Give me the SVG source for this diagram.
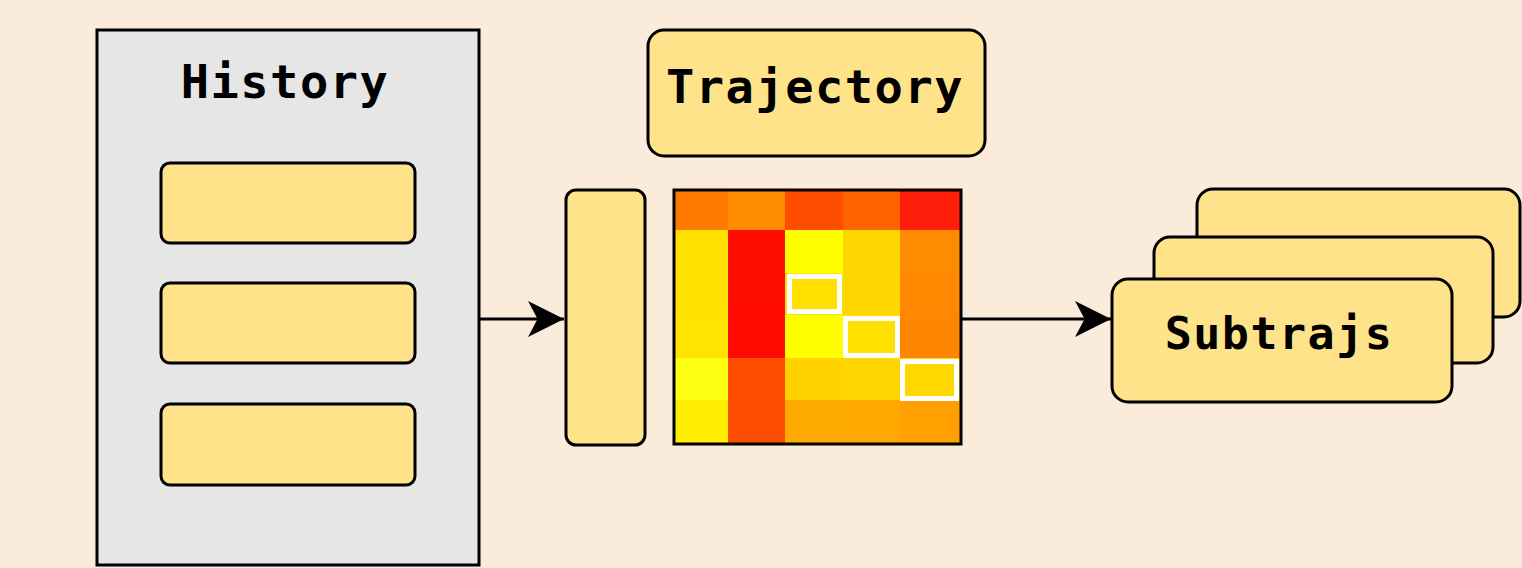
<svg xmlns="http://www.w3.org/2000/svg" width="1522" height="568" viewBox="0 0 1522 568">
  <style>
    .box { fill: #FFE38A; stroke: #000; stroke-width: 3; }
    .panel { fill: #E6E6E6; stroke: #000; stroke-width: 3; }
    .label { font-family: "DejaVu Sans Mono", "Liberation Mono", monospace; font-weight: bold; fill: #000; text-anchor: middle; }
    .conn { stroke: #000; stroke-width: 3; fill: none; }
    .hl { fill: none; stroke: #FFFFFF; stroke-width: 5; }
  </style>
  <defs>
    <marker id="arrow" viewBox="0 0 12 12" refX="12" refY="6" markerWidth="36" markerHeight="36" markerUnits="userSpaceOnUse" orient="auto">
      <path d="M0,0 L12,6 L0,12 L3.2,6 Z" fill="#000"/>
    </marker>
  </defs>

  <rect width="1522" height="568" fill="#FBEBDB"/>

  <!-- History panel with three slots -->
  <g id="history">
    <rect class="panel" x="97" y="30" width="382" height="535"/>
    <text class="label" x="285" y="98" font-size="47" letter-spacing="1.5">History</text>
    <rect class="box" x="161" y="163" width="254" height="80" rx="9"/>
    <rect class="box" x="161" y="283" width="254" height="80" rx="9"/>
    <rect class="box" x="161" y="404" width="254" height="81" rx="9"/>
  </g>

  <!-- Encoder column -->
  <g id="encoder">
    <rect class="box" x="566" y="190" width="79" height="255" rx="10"/>
  </g>

  <!-- Trajectory title -->
  <g id="trajectory">
    <rect class="box" x="648" y="30" width="337" height="126" rx="16"/>
    <text class="label" x="815" y="103" font-size="47" letter-spacing="1.5">Trajectory</text>
  </g>

  <!-- Heatmap matrix -->
  <g id="heatmap">
    <!-- row 1 -->
    <rect x="675" y="190" width="53" height="40" fill="#FF7A00"/>
    <rect x="728" y="190" width="57" height="40" fill="#FF8C00"/>
    <rect x="785" y="190" width="58" height="40" fill="#FF4E00"/>
    <rect x="843" y="190" width="57" height="40" fill="#FF6200"/>
    <rect x="900" y="190" width="60" height="40" fill="#FF1E0A"/>
    <!-- row 2 -->
    <rect x="675" y="230" width="53" height="43" fill="#FFE000"/>
    <rect x="728" y="230" width="57" height="43" fill="#FF0E00"/>
    <rect x="785" y="230" width="58" height="43" fill="#FFFF00"/>
    <rect x="843" y="230" width="57" height="43" fill="#FFD700"/>
    <rect x="900" y="230" width="60" height="43" fill="#FF8C00"/>
    <!-- row 3 -->
    <rect x="675" y="273" width="53" height="42" fill="#FFE000"/>
    <rect x="728" y="273" width="57" height="42" fill="#FF0E00"/>
    <rect x="785" y="273" width="58" height="42" fill="#FFE000"/>
    <rect x="843" y="273" width="57" height="42" fill="#FFD700"/>
    <rect x="900" y="273" width="60" height="42" fill="#FF8800"/>
    <!-- row 4 -->
    <rect x="675" y="315" width="53" height="43" fill="#FFE400"/>
    <rect x="728" y="315" width="57" height="43" fill="#FF0A00"/>
    <rect x="785" y="315" width="58" height="43" fill="#FFFF00"/>
    <rect x="843" y="315" width="57" height="43" fill="#FFE000"/>
    <rect x="900" y="315" width="60" height="43" fill="#FF8600"/>
    <!-- row 5 -->
    <rect x="675" y="358" width="53" height="42" fill="#FFFF14"/>
    <rect x="728" y="358" width="57" height="42" fill="#FF4D00"/>
    <rect x="785" y="358" width="58" height="42" fill="#FFD200"/>
    <rect x="843" y="358" width="57" height="42" fill="#FFD500"/>
    <rect x="900" y="358" width="60" height="42" fill="#FFD800"/>
    <!-- row 6 -->
    <rect x="675" y="400" width="53" height="44" fill="#FFEE00"/>
    <rect x="728" y="400" width="57" height="44" fill="#FF4D00"/>
    <rect x="785" y="400" width="58" height="44" fill="#FFAA00"/>
    <rect x="843" y="400" width="57" height="44" fill="#FFA800"/>
    <rect x="900" y="400" width="60" height="44" fill="#FFA000"/>
    <!-- diagonal highlights -->
    <rect class="hl" x="789.5" y="276.5" width="50" height="35"/>
    <rect class="hl" x="845.5" y="318.5" width="52" height="37"/>
    <rect class="hl" x="902.5" y="361.5" width="54" height="37"/>
    <rect x="674" y="190" width="287" height="254" fill="none" stroke="#000" stroke-width="3"/>
  </g>

  <!-- Stack of sub-trajectories -->
  <g id="subtrajs">
    <rect class="box" x="1197" y="189" width="323" height="128" rx="16"/>
    <rect class="box" x="1154" y="237" width="339" height="126" rx="16"/>
    <rect class="box" x="1112" y="279" width="340" height="123" rx="16"/>
    <text class="label" x="1279" y="349" font-size="45" letter-spacing="1.5">Subtrajs</text>
  </g>

  <!-- Connectors -->
  <g id="connectors">
    <line class="conn" x1="480" y1="319" x2="564" y2="319" marker-end="url(#arrow)"/>
    <line class="conn" x1="962" y1="319" x2="1111" y2="319" marker-end="url(#arrow)"/>
  </g>
</svg>
